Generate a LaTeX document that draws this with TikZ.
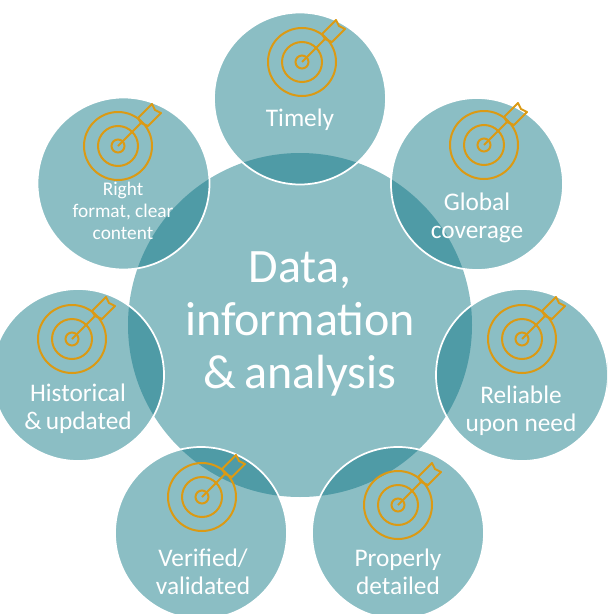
\documentclass[tikz,border=0pt]{standalone}
\usepackage{fontspec}
\setmainfont{Carlito}
\definecolor{tealLight}{HTML}{8BBEC4}
\definecolor{tealDark}{HTML}{4F9BA6}
\definecolor{targetGold}{HTML}{DB9A14}
\tikzset{
  bigcirc/.style={circle, fill=tealLight, minimum size=344\X, inner sep=0pt},
  smallcirc/.style={circle, fill=tealLight, minimum size=172\X, inner sep=0pt},
  smalllabel/.style={text=white, align=center, font=\fontsize{19}{21}\selectfont},
  target/.pic={
    \draw[targetGold, line width=1.5pt] (0,0) circle (34) (0,0) circle (20) (0,0) circle (6.5);
    \draw[targetGold, line width=1.5pt, line join=round]
      (0,0) -- (23,-23) (20,-28) -- (34,-42) -- (37,-36) -- (43,-33) -- (30,-20) -- (23,-23) -- cycle;
  }
}
\newcommand\X{*0.75pt}
\begin{document}
\begin{tikzpicture}[x=0.75pt, y=-0.75pt]

  \useasboundingbox (0,0) rectangle (607,614);

  \begin{scope}
    \clip (0,0) rectangle (607,614);

    \node[bigcirc] (data) at (300,325) {};

    \node[smallcirc] (timely) at (300,98.5) {};
    \node[smallcirc] (global) at (477,184) {};
    \node[smallcirc] (reliable) at (522,375) {};
    \node[smallcirc] (properly) at (398,533) {};
    \node[smallcirc] (verified) at (201,533) {};
    \node[smallcirc] (historical) at (78,375) {};
    \node[smallcirc] (right) at (123.5,183.5) {};

    %% overlaps with the big circle
    \begin{scope}
      \clip (data.center) circle (172);
      \foreach \name in {timely,global,reliable,properly,verified,historical,right}
        \fill[tealDark] (\name.center) circle (86);
    \end{scope}
    \foreach \name in {timely,global,reliable,properly,verified,historical,right}
      \draw[white, line width=1.3pt] (\name.center) circle (86);
  \end{scope}

  \pic at (302,62) {target};
  \pic at (484,145) {target};
  \pic at (522,339) {target};
  \pic at (72,339) {target};
  \pic at (202,497) {target};
  \pic at (398,505) {target};
  \pic at (118,146) {target};

  \node[text=white, align=center, font=\fontsize{36}{39.5}\selectfont] (datatext) at (300,324)
    {Data,\\information\\\&\,analysis};

  \node[smalllabel] (timelytext) at (300,120) {Timely};
  \node[smalllabel] (globaltext) at (477,218) {Global\\coverage};
  \node[smalllabel] (reliabletext) at (521,411) {Reliable\\upon need};
  \node[smalllabel] (propertext) at (398,572) {Properly\\detailed};
  \node[smalllabel] (verifiedtext) at (203,572) {Verified/\\validated};
  \node[smalllabel] (historicaltext) at (78,409) {Historical\\\&\,updated};
  \node[smalllabel, font=\fontsize{14.5}{16.5}\selectfont] (righttext) at (123,211) {Right\\format, clear\\content};
\end{tikzpicture}
\end{document}
